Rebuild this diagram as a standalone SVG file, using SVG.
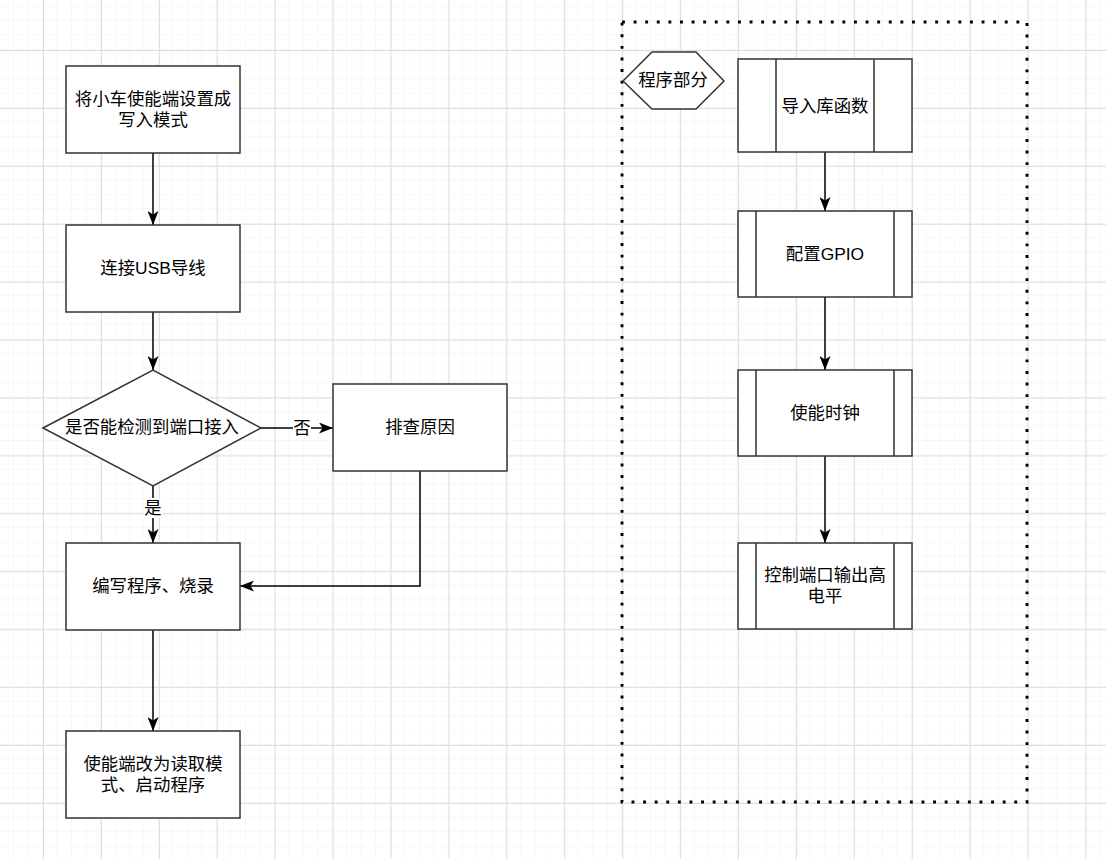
<svg xmlns="http://www.w3.org/2000/svg" width="1106" height="859" viewBox="0 0 1106 859">
<defs>
<pattern id="minor" patternUnits="userSpaceOnUse" x="14.04" y="6.56" width="14.48" height="14.48">
<path d="M14.48 0 V14.48 M0 14.48 H14.48" fill="none" stroke="#f0f0f0" stroke-width="1"/>
</pattern>
<pattern id="major" patternUnits="userSpaceOnUse" x="43" y="50" width="57.92" height="57.92">
<path d="M0.5 0 V57.92 M0 0.5 H57.92" fill="none" stroke="#dddddd" stroke-width="1"/>
</pattern>
<marker id="arr" markerUnits="userSpaceOnUse" markerWidth="14" markerHeight="11" refX="14" refY="5.5" orient="auto">
<path d="M0,0 L14,5.5 L0,11 L3.5,5.5 Z" fill="#000"/>
</marker>
</defs>
<style>
.box{fill:#fff;stroke:#333;stroke-width:1.5}
.bar{fill:none;stroke:#333;stroke-width:1.5}
.t{font-family:"Liberation Sans","Noto Sans CJK SC",sans-serif;font-size:17.4px;fill:#000;text-anchor:middle;dominant-baseline:central}
.c{fill:none;stroke:#000;stroke-width:1.5;marker-end:url(#arr)}
.cn{fill:none;stroke:#000;stroke-width:1.5}
</style>
<rect width="1106" height="859" fill="#fff"/>
<rect width="1106" height="859" fill="url(#minor)"/>
<rect width="1106" height="859" fill="url(#major)"/>

<g id="container">
<rect x="622" y="22" width="405" height="780" fill="none" stroke="#000" stroke-width="2.9" stroke-dasharray="2.9 8.7"/>
</g>

<g id="connectors">
<path class="c" d="M153 153 V225"/>
<path class="c" d="M153 312 V370"/>
<path class="c" d="M261 428 H333"/>
<rect x="293" y="418" width="18" height="20" fill="#fff"/>
<text class="t" x="302" y="428">否</text>
<path class="c" d="M153 486 V543"/>
<rect x="144" y="498" width="18" height="20" fill="#fff"/>
<text class="t" x="153" y="508">是</text>
<path class="c" d="M420 471 V586 H240"/>
<path class="c" d="M153 630 V731"/>
<path class="c" d="M825 152 V211"/>
<path class="c" d="M825 297 V370"/>
<path class="c" d="M825 456 V543"/>
</g>

<g id="n1">
<rect class="box" x="66" y="66" width="174" height="87"/>
<text class="t" x="153" y="99">将小车使能端设置成</text>
<text class="t" x="153" y="120">写入模式</text>
</g>
<g id="n2">
<rect class="box" x="66" y="225" width="174" height="87"/>
<text class="t" x="153" y="268">连接USB导线</text>
</g>
<g id="n3">
<path class="box" d="M43 428 L153 370 L261 428 L153 486 Z"/>
<text class="t" x="152" y="427">是否能检测到端口接入</text>
</g>
<g id="n4">
<rect class="box" x="333" y="384" width="174" height="87"/>
<text class="t" x="420" y="427">排查原因</text>
</g>
<g id="n5">
<rect class="box" x="66" y="543" width="174" height="87"/>
<text class="t" x="153" y="586">编写程序、烧录</text>
</g>
<g id="n6">
<rect class="box" x="66" y="731" width="174" height="87"/>
<text class="t" x="153" y="764">使能端改为读取模</text>
<text class="t" x="153" y="785">式、启动程序</text>
</g>

<g id="hex">
<path class="box" d="M623 81 L652 52 L696 52 L724 81 L696 109 L652 109 Z"/>
<text class="t" x="673" y="80">程序部分</text>
</g>
<g id="p1">
<rect class="box" x="738" y="59" width="174" height="93"/>
<path class="bar" d="M776 59 V152 M874 59 V152"/>
<text class="t" x="825" y="106">导入库函数</text>
</g>
<g id="p2">
<rect class="box" x="738" y="211" width="174" height="86"/>
<path class="bar" d="M756 211 V297 M894 211 V297"/>
<text class="t" x="825" y="254">配置GPIO</text>
</g>
<g id="p3">
<rect class="box" x="738" y="370" width="174" height="86"/>
<path class="bar" d="M756 370 V456 M894 370 V456"/>
<text class="t" x="825" y="413">使能时钟</text>
</g>
<g id="p4">
<rect class="box" x="738" y="543" width="174" height="86"/>
<path class="bar" d="M756 543 V629 M894 543 V629"/>
<text class="t" x="825" y="575">控制端口输出高</text>
<text class="t" x="825" y="596">电平</text>
</g>
</svg>
